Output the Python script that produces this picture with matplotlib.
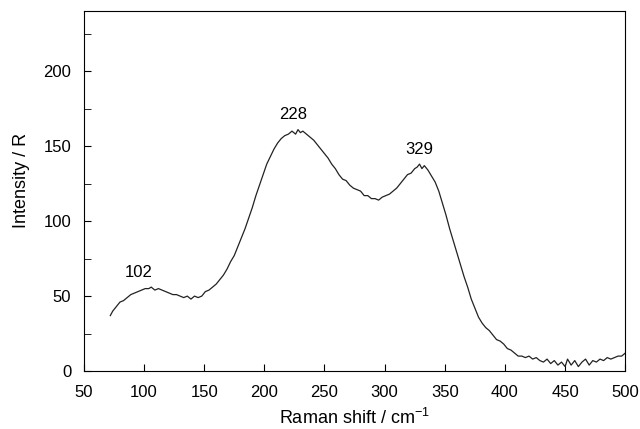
import numpy as np
import matplotlib.pyplot as plt

plt.rcParams['font.family'] = ['Liberation Sans', 'DejaVu Sans']
plt.rcParams['mathtext.default'] = 'regular'

# Raman spectrum
shift = [72, 74, 76, 78, 80, 83, 86, 89, 92, 95, 98, 101, 104, 106, 109, 112,
         115, 118, 121, 124, 127, 130, 133, 136, 139, 142, 145, 148, 151, 154,
         157, 160, 163, 166, 169, 172, 175, 178, 181, 184, 187, 190, 193, 196,
         199, 202, 205, 208, 211, 214, 217, 220, 223, 226, 228, 230, 232, 235,
         238, 241, 244, 247, 250, 253, 256, 259, 262, 265, 268, 271, 274, 277,
         280, 283, 286, 289, 292, 295, 298, 301, 304, 307, 310, 313, 316, 319,
         322, 325, 327, 329, 331, 333, 336, 339, 342, 345, 348, 351, 354, 357,
         360, 363, 366, 369, 372, 375, 378, 381, 384, 387, 390, 393, 396, 399,
         402, 405, 408, 411, 414, 417, 420, 423, 426, 429, 432, 435, 438, 441,
         444, 447, 450, 452, 455, 458, 461, 464, 467, 470, 473, 476, 479, 482,
         485, 488, 491, 494, 497, 500]
intensity = [37, 40, 42, 44, 46, 47, 49, 51, 52, 53, 54, 55, 55, 56, 54, 55,
             54, 53, 52, 51, 51, 50, 49, 50, 48, 50, 49, 50, 53, 54,
             56, 58, 61, 64, 68, 73, 77, 83, 89, 95, 102, 109, 117, 124,
             131, 138, 143, 148, 152, 155, 157, 158, 160, 158, 161, 159, 160, 158,
             156, 154, 151, 148, 145, 142, 138, 135, 131, 128, 127, 124, 122, 121,
             120, 117, 117, 115, 115, 114, 116, 117, 118, 120, 122, 125, 128, 131,
             132, 135, 136, 138, 135, 137, 134, 130, 126, 120, 112, 104, 95, 87,
             79, 71, 63, 56, 48, 42, 36, 32, 29, 27, 24, 21, 20, 18,
             15, 14, 12, 10, 10, 9, 10, 8, 9, 7, 6, 8, 5, 7,
             4, 6, 3, 8, 4, 7, 3, 6, 8, 4, 7, 6, 8, 7,
             9, 8, 9, 10, 10, 12]

peak_pos = [102, 228, 329]
label_x = [96, 224, 329]
label_y = [66, 171, 148]

fig, ax = plt.subplots(figsize=(6.4, 4.29), dpi=100)
ax.plot(shift, intensity, color='#222222', lw=0.9)

for p, lx, ly in zip(peak_pos, label_x, label_y):
    ax.text(lx, ly, str(p), ha='center', va='center', fontsize=12)

ax.set_xlim(50, 500)
ax.set_ylim(0, 240)
ax.set_xticks(np.arange(50, 501, 50))
ax.set_yticks(np.arange(0, 201, 50))
ax.set_yticks(np.arange(25, 240, 50), minor=True)
ax.tick_params(direction='in', labelsize=12, length=5)
ax.tick_params(axis='x', pad=10)
ax.tick_params(axis='y', pad=9)
ax.tick_params(which='minor', direction='in', length=5)
ax.set_xlabel('Raman shift / cm$^{-1}$', fontsize=13, labelpad=6)
ax.set_ylabel('Intensity / R', fontsize=13, labelpad=8)
ax.yaxis.set_label_coords(-0.1, 0.53)

plt.subplots_adjust(left=0.131, right=0.977, top=0.974, bottom=0.135)
plt.savefig('out.png')
